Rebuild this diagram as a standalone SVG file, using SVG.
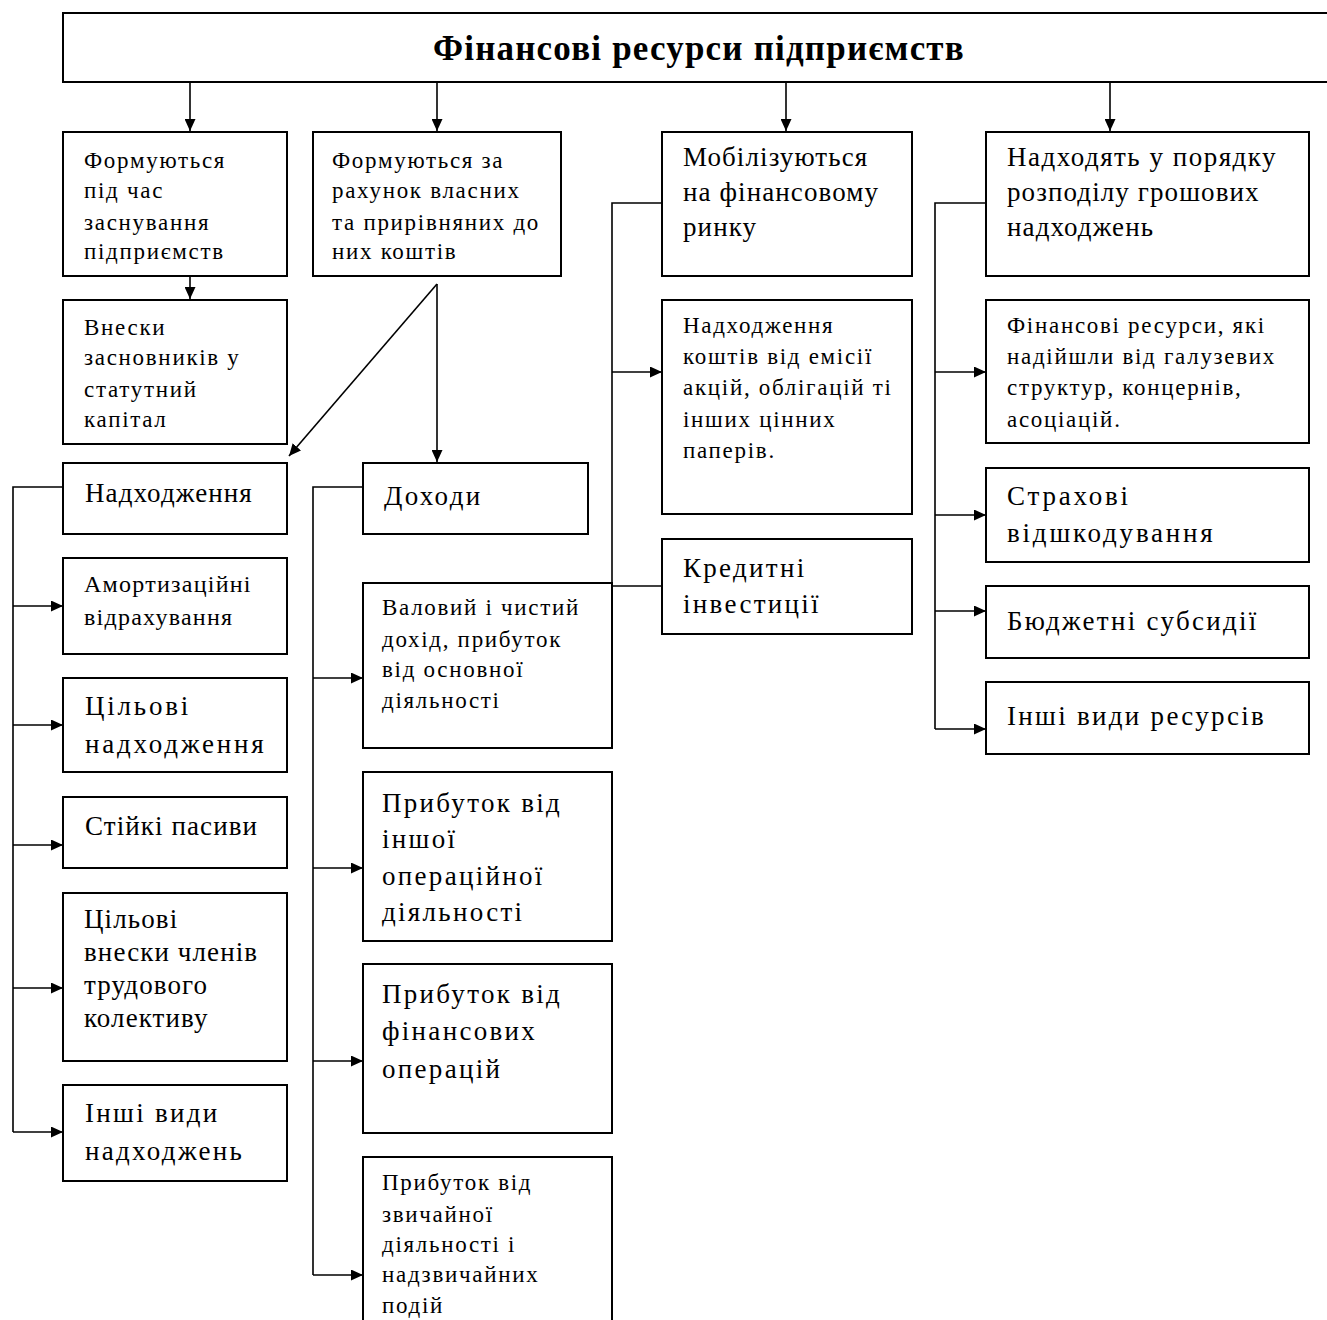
<svg xmlns="http://www.w3.org/2000/svg" width="1327" height="1320" viewBox="0 0 1327 1320">
<style>
.box{fill:#fff;stroke:#000;stroke-width:2}
.ln{fill:none;stroke:#000;stroke-width:1.6}
.arr{fill:none;stroke:#000;stroke-width:1.6;marker-end:url(#ah)}
text{font-family:"Liberation Serif","Times New Roman",serif;fill:#000}
.t{font-size:35px;font-weight:bold;letter-spacing:1.2px}
.s{font-size:23px;letter-spacing:1.7px}
.m{font-size:24px;letter-spacing:1.25px}
.l{font-size:27px;letter-spacing:1.1px}
.w{font-size:27px;letter-spacing:2.3px}
.ww{font-size:27px;letter-spacing:2.8px}
.wide{letter-spacing:1.5px}
</style>
<defs>
<marker id="ah" viewBox="0 0 12 11" refX="12" refY="5.5" markerWidth="12" markerHeight="11" orient="auto" markerUnits="userSpaceOnUse">
<path d="M0,0 L12,5.5 L0,11 z" fill="#000"/>
</marker>
</defs>
<rect width="1327" height="1320" fill="#fff"/>

<g id="connectors">
<line class="arr" x1="190" y1="83" x2="190" y2="131"/>
<line class="arr" x1="437" y1="83" x2="437" y2="131"/>
<line class="arr" x1="786" y1="83" x2="786" y2="131"/>
<line class="arr" x1="1110" y1="83" x2="1110" y2="131"/>
<line class="arr" x1="190" y1="277" x2="190" y2="299"/>
<line class="arr" x1="437" y1="284" x2="289" y2="456"/>
<line class="arr" x1="437" y1="284" x2="437" y2="462"/>
<polyline class="ln" points="63,487 13,487 13,1132"/>
<line class="arr" x1="13" y1="606" x2="63" y2="606"/>
<line class="arr" x1="13" y1="725" x2="63" y2="725"/>
<line class="arr" x1="13" y1="845" x2="63" y2="845"/>
<line class="arr" x1="13" y1="988" x2="63" y2="988"/>
<line class="arr" x1="13" y1="1132" x2="63" y2="1132"/>
<polyline class="ln" points="363,487 313,487 313,1275"/>
<line class="arr" x1="313" y1="678" x2="363" y2="678"/>
<line class="arr" x1="313" y1="868" x2="363" y2="868"/>
<line class="arr" x1="313" y1="1061" x2="363" y2="1061"/>
<line class="arr" x1="313" y1="1275" x2="363" y2="1275"/>
<polyline class="ln" points="662,203 612,203 612,748"/>
<line class="arr" x1="612" y1="372" x2="662" y2="372"/>
<line class="ln" x1="612" y1="586" x2="662" y2="586"/>
<polyline class="ln" points="986,203 935,203 935,729"/>
<line class="arr" x1="935" y1="372" x2="986" y2="372"/>
<line class="arr" x1="935" y1="515" x2="986" y2="515"/>
<line class="arr" x1="935" y1="611" x2="986" y2="611"/>
<line class="arr" x1="935" y1="729" x2="986" y2="729"/>
</g>

<g id="title">
<rect class="box" x="63" y="13" width="1280" height="69"/>
<text class="t" x="433" y="60">Фінансові ресурси підприємств</text>
</g>

<g id="n-founding">
<rect class="box" x="63" y="132" width="224" height="144"/>
<text class="s" x="84" y="168">Формуються</text>
<text class="s" x="84" y="198">під час</text>
<text class="s" x="84" y="230">заснування</text>
<text class="s" x="84" y="259">підприємств</text>
</g>

<g id="n-own">
<rect class="box" x="313" y="132" width="248" height="144"/>
<text class="s" x="332" y="168">Формуються за</text>
<text class="s" x="332" y="198">рахунок власних</text>
<text class="s" x="332" y="230">та прирівняних до</text>
<text class="s" x="332" y="259">них коштів</text>
</g>

<g id="n-market">
<rect class="box" x="662" y="132" width="250" height="144"/>
<text class="l" x="683" y="166">Мобілізуються</text>
<text class="l" x="683" y="201">на фінансовому</text>
<text class="l" x="683" y="236">ринку</text>
</g>

<g id="n-distribution">
<rect class="box" x="986" y="132" width="323" height="144"/>
<text class="l wide" x="1007" y="166">Надходять у порядку</text>
<text class="l" x="1007" y="201">розподілу грошових</text>
<text class="l" x="1007" y="236">надходжень</text>
</g>

<g id="n-contrib">
<rect class="box" x="63" y="300" width="224" height="144"/>
<text class="s" x="84" y="335">Внески</text>
<text class="s" x="84" y="365">засновників у</text>
<text class="s" x="84" y="397">статутний</text>
<text class="s" x="84" y="427">капітал</text>
</g>

<g id="n-emission">
<rect class="box" x="662" y="300" width="250" height="214"/>
<text class="s" x="683" y="333">Надходження</text>
<text class="s" x="683" y="364">коштів від емісії</text>
<text class="s" x="683" y="395">акцій, облігацій ті</text>
<text class="s" x="683" y="427">інших цінних</text>
<text class="s" x="683" y="458">паперів.</text>
</g>

<g id="n-branch">
<rect class="box" x="986" y="300" width="323" height="143"/>
<text class="s" x="1007" y="333">Фінансові ресурси, які</text>
<text class="s" x="1007" y="364">надійшли від галузевих</text>
<text class="s" x="1007" y="395">структур, концернів,</text>
<text class="s" x="1007" y="427">асоціацій.</text>
</g>

<g id="n-receipts">
<rect class="box" x="63" y="463" width="224" height="71"/>
<text class="l" x="85" y="502">Надходження</text>
</g>

<g id="n-income">
<rect class="box" x="363" y="463" width="225" height="71"/>
<text class="w" x="384" y="505">Доходи</text>
</g>

<g id="n-amort">
<rect class="box" x="63" y="558" width="224" height="96"/>
<text class="m" x="84" y="592">Амортизаційні</text>
<text class="m" x="84" y="625">відрахування</text>
</g>

<g id="n-target">
<rect class="box" x="63" y="678" width="224" height="94"/>
<text class="ww" x="85" y="715">Цільові</text>
<text class="ww" x="85" y="753">надходження</text>
</g>

<g id="n-stable">
<rect class="box" x="63" y="797" width="224" height="71"/>
<text class="l" x="85" y="835">Стійкі пасиви</text>
</g>

<g id="n-members">
<rect class="box" x="63" y="893" width="224" height="168"/>
<text class="l" x="84" y="928">Цільові</text>
<text class="l" x="84" y="961">внески членів</text>
<text class="l" x="84" y="994">трудового</text>
<text class="l" x="84" y="1027">колективу</text>
</g>

<g id="n-other-receipts">
<rect class="box" x="63" y="1085" width="224" height="96"/>
<text class="w" x="85" y="1122">Інші види</text>
<text class="w" x="85" y="1160">надходжень</text>
</g>

<g id="n-gross">
<rect class="box" x="363" y="583" width="249" height="165"/>
<text class="s" x="382" y="615">Валовий і чистий</text>
<text class="s" x="382" y="647">дохід, прибуток</text>
<text class="s" x="382" y="677">від основної</text>
<text class="s" x="382" y="708">діяльності</text>
</g>

<g id="n-other-op">
<rect class="box" x="363" y="772" width="249" height="169"/>
<text class="w" x="382" y="812">Прибуток від</text>
<text class="w" x="382" y="848">іншої</text>
<text class="w" x="382" y="885">операційної</text>
<text class="w" x="382" y="921">діяльності</text>
</g>

<g id="n-fin-op">
<rect class="box" x="363" y="964" width="249" height="169"/>
<text class="w" x="382" y="1003">Прибуток від</text>
<text class="w" x="382" y="1040">фінансових</text>
<text class="w" x="382" y="1078">операцій</text>
</g>

<g id="n-ordinary">
<rect class="box" x="363" y="1157" width="249" height="200"/>
<text class="s" x="382" y="1190">Прибуток від</text>
<text class="s" x="382" y="1222">звичайної</text>
<text class="s" x="382" y="1252">діяльності і</text>
<text class="s" x="382" y="1282">надзвичайних</text>
<text class="s" x="382" y="1313">подій</text>
</g>

<g id="n-credit">
<rect class="box" x="662" y="539" width="250" height="95"/>
<text class="w" x="683" y="577">Кредитні</text>
<text class="w" x="683" y="613">інвестиції</text>
</g>

<g id="n-insurance">
<rect class="box" x="986" y="468" width="323" height="94"/>
<text class="ww" x="1007" y="505">Страхові</text>
<text class="ww" x="1007" y="542">відшкодування</text>
</g>

<g id="n-budget">
<rect class="box" x="986" y="586" width="323" height="72"/>
<text class="w" x="1007" y="630">Бюджетні субсидії</text>
</g>

<g id="n-other-res">
<rect class="box" x="986" y="682" width="323" height="72"/>
<text class="w" x="1007" y="725">Інші види ресурсів</text>
</g>
</svg>
